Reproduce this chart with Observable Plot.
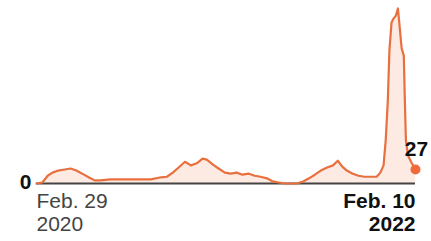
<!DOCTYPE html>
<html>
<head>
<meta charset="utf-8">
<script src="https://cdn.jsdelivr.net/npm/d3@7"></script>
<script src="https://cdn.jsdelivr.net/npm/@observablehq/plot@0.6"></script>
<style>
  html, body { margin: 0; padding: 0; background: #fff; }
  svg { display: block; }
</style>
</head>
<body>
<div id="chart"></div>
<script>
const dates = [
  "2020-02-29","2020-03-11","2020-03-21","2020-03-30","2020-04-10","2020-04-22","2020-05-03","2020-05-14",
  "2020-05-25","2020-06-06","2020-06-17","2020-06-28","2020-07-17","2020-08-05","2020-08-24","2020-09-12",
  "2020-10-01","2020-10-20","2020-10-31","2020-11-11","2020-11-22","2020-12-04","2020-12-15","2020-12-26",
  "2021-01-06","2021-01-14","2021-01-25","2021-02-05","2021-02-17","2021-02-28","2021-03-11","2021-03-22",
  "2021-04-03","2021-04-14","2021-04-25","2021-05-07","2021-05-18","2021-05-29","2021-06-10","2021-06-21",
  "2021-07-02","2021-07-14","2021-07-25","2021-08-05","2021-08-16","2021-08-28","2021-09-08","2021-09-17",
  "2021-09-25","2021-10-04","2021-10-15","2021-10-26","2021-11-06","2021-11-18","2021-11-29","2021-12-06",
  "2021-12-12","2021-12-16","2021-12-20","2021-12-23","2021-12-27","2021-12-31","2022-01-04","2022-01-08",
  "2022-01-11","2022-01-15","2022-01-19","2022-01-21","2022-01-23","2022-01-27","2022-02-02","2022-02-10"
];
const values = [
  0, 2, 15, 21, 25, 27, 29, 25,
  19, 12, 6, 6, 8, 8, 8, 8,
  8, 12, 13, 21, 31, 42, 35, 39,
  48, 46, 37, 29, 21, 19, 21, 17,
  19, 15, 13, 10, 4, 2, 0, 0,
  0, 4, 10, 17, 25, 31, 35, 44,
  33, 25, 19, 15, 13, 13, 13, 21,
  35, 83, 160, 257, 311, 319, 324, 338,
  305, 261, 247, 160, 83, 54, 41, 27
];
const tickDates = ["2020-02-29", "2022-02-10"];
const tickLabels = ["Feb. 29\n2020", "Feb. 10\n2022"];
const latestLabel = "27";

const parse = d3.utcParse("%Y-%m-%d");
const data = dates.map((d, i) => ({date: parse(d), value: values[i]}));
const ticks = tickDates.map((d, i) => ({date: parse(d), label: tickLabels[i]}));
const last = data[data.length - 1];

const font = "'Liberation Sans', Arial, sans-serif";

const chart = Plot.plot({
  width: 431,
  height: 241,
  marginLeft: 36,
  marginRight: 16,
  marginTop: 8,
  marginBottom: 58,
  style: {fontFamily: font, background: "#fff"},
  x: {type: "utc", domain: [data[0].date, last.date], axis: null},
  y: {domain: [0, 338], axis: null},
  marks: [
    Plot.areaY(data, {x: "date", y: "value", fill: "#f7c4b0", fillOpacity: 0.35, curve: "linear"}),
    Plot.ruleY([0], {stroke: "#444", strokeWidth: 1.8}),
    Plot.lineY(data, {x: "date", y: "value", stroke: "#e8703f", strokeWidth: 2.2, curve: "linear"}),
    Plot.dot([last], {x: "date", y: "value", r: 5, fill: "#f26a3c", stroke: "none"}),
    Plot.text([last], {x: "date", y: "value", text: () => latestLabel, dy: -14, lineAnchor: "bottom",
      fontSize: 21, fontWeight: "bold", fill: "#111", textAnchor: "middle", dx: 1}),
    Plot.text([0], {x: () => data[0].date, y: d => d, text: d => String(d), textAnchor: "end", dx: -5, dy: -1,
      fontSize: 21, fontWeight: "bold", fill: "#111"}),
    Plot.text([ticks[0]], {x: "date", y: () => 0, text: "label", textAnchor: "start", lineAnchor: "top",
      dy: 7, fontSize: 21, lineHeight: 1.14, fill: "#444"}),
    Plot.text([ticks[1]], {x: "date", y: () => 0, text: "label", textAnchor: "end", lineAnchor: "top",
      dy: 7, fontSize: 21, lineHeight: 1.14, fill: "#111", fontWeight: "bold"})
  ]
});
document.getElementById("chart").append(chart);
</script>
</body>
</html>
